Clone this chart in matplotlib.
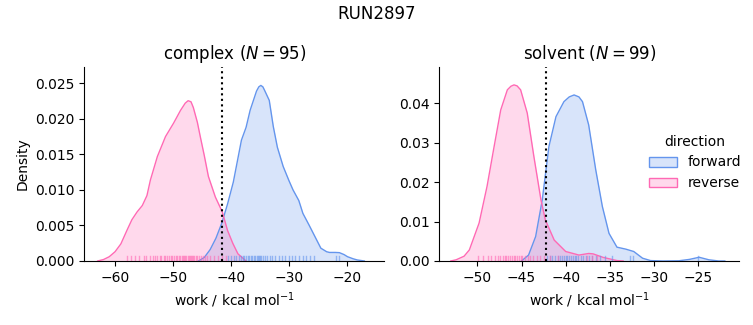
import matplotlib
matplotlib.use("Agg")
import matplotlib.pyplot as plt
from matplotlib.colors import to_rgba
from matplotlib.patches import Patch

# colours per direction
FWD_COLOR = "cornflowerblue"
REV_COLOR = "hotpink"

# kde curves (work in kcal/mol, density)
complex_rev_x = [-63.0, -62.0, -61.0, -60.0, -59.0, -57.9, -57.1, -56.2, -55.3, -54.5, -53.9,
                 -52.7, -51.3, -49.9, -48.7, -47.9, -47.4, -46.9, -46.5, -45.8, -45.3, -44.6,
                 -43.9, -42.7, -41.5, -40.6, -39.7, -38.8, -37.4]
complex_rev_d = [0.0, 0.0002, 0.0006, 0.0013, 0.0024, 0.0044, 0.0058, 0.0069, 0.0078, 0.0092, 0.0114,
                 0.0147, 0.0175, 0.0194, 0.0212, 0.0222, 0.02255, 0.0224, 0.0216, 0.0195, 0.0175, 0.0148,
                 0.0119, 0.0090, 0.0069, 0.0043, 0.0025, 0.0010, 0.0]

complex_fwd_x = [-45.6, -44.6, -43.6, -42.6, -41.6, -40.6, -39.6, -38.2, -37.4, -36.7, -35.6,
                 -35.2, -34.85, -34.5, -34.2, -33.4, -32.7, -32.0, -31.0, -30.0, -29.3, -28.3,
                 -27.6, -26.5, -26.0, -24.5, -23.5, -23.0, -22.0, -21.3, -20.5, -19.9, -18.9,
                 -18.2, -17.0]
complex_fwd_d = [0.0, 0.0005, 0.0016, 0.0032, 0.0053, 0.0080, 0.0111, 0.0170, 0.0188, 0.0212, 0.0239,
                 0.0245, 0.0247, 0.0245, 0.0240, 0.0226, 0.0189, 0.0160, 0.0133, 0.0113, 0.0100, 0.0085,
                 0.0067, 0.0050, 0.0042, 0.0018, 0.0013, 0.0012, 0.0012, 0.00117, 0.0009, 0.0006, 0.0003,
                 0.00014, 0.0]

solvent_rev_x = [-53.0, -52.4, -51.5, -50.9, -49.8, -48.9, -48.1, -47.35, -46.6, -46.2, -45.85,
                 -45.5, -45.1, -44.35, -43.6, -42.8, -42.3, -41.3, -40.0, -38.5, -37.4, -36.9,
                 -35.75, -34.2, -33.5]
solvent_rev_d = [0.0, 0.0003, 0.0012, 0.0028, 0.0096, 0.0189, 0.0290, 0.0383, 0.0434, 0.0443, 0.04465,
                 0.0444, 0.0434, 0.0375, 0.0265, 0.0155, 0.0104, 0.0053, 0.0024, 0.0015, 0.0019, 0.0018,
                 0.0009, 0.0001, 0.0]

solvent_fwd_x = [-45.0, -44.2, -43.4, -42.65, -41.9, -41.1, -40.2, -39.6, -39.05, -38.5, -38.1,
                 -37.4, -36.6, -35.85, -35.1, -34.2, -33.2, -32.3, -31.3, -30.4, -29.0, -27.2,
                 -26.0, -24.9, -23.8, -22.7, -22.0]
solvent_fwd_d = [0.0, 0.0015, 0.0062, 0.0155, 0.0290, 0.0366, 0.0404, 0.0416, 0.0421, 0.0416, 0.0404,
                 0.0345, 0.0231, 0.0138, 0.0070, 0.0035, 0.0030, 0.0024, 0.0007, 0.0001, 0.0, 0.00005,
                 0.0004, 0.00094, 0.0003, 0.0, 0.0]

# individual work values (rug)
complex_rev_rug = [-58.0, -57.2, -56.5, -55.8, -55.0, -54.6, -54.0, -53.5, -53.1, -52.7, -52.3, -52.0,
                   -51.6, -51.3, -51.0, -50.7, -50.4, -50.1, -49.8, -49.5, -49.3, -49.0, -48.8, -48.5,
                   -48.3, -48.1, -47.9, -47.7, -47.5, -47.3, -47.1, -46.9, -46.7, -46.5, -46.3, -46.0,
                   -45.8, -45.5, -45.2, -44.9, -44.5, -44.1, -43.6, -43.0, -42.3, -41.5, -40.9]
complex_fwd_rug = [-40.6, -40.0, -39.5, -39.1, -38.7, -38.3, -38.0, -37.7, -37.4, -37.1, -36.9, -36.6,
                   -36.4, -36.1, -35.9, -35.6, -35.4, -35.2, -35.0, -34.8, -34.5, -34.2, -33.8, -33.3,
                   -32.9, -32.4, -31.8, -31.2, -30.6, -30.0, -29.5, -28.9, -28.2, -27.6, -27.0, -26.4,
                   -25.7, -21.9, -21.4]
solvent_rev_rug = [-49.9, -49.3, -48.8, -48.4, -48.0, -47.7, -47.4, -47.1, -46.9, -46.7, -46.5, -46.3,
                   -46.1, -45.9, -45.7, -45.5, -45.3, -45.1, -44.9, -44.6, -44.3, -44.0, -43.7, -43.3,
                   -42.9, -42.5, -41.8, -40.9, -37.6, -37.0, -36.5]
solvent_fwd_rug = [-42.1, -41.8, -41.5, -41.2, -40.9, -40.6, -40.4, -40.2, -40.0, -39.8, -39.6, -39.4,
                   -39.2, -39.0, -38.8, -38.6, -38.3, -38.0, -37.7, -37.4, -37.0, -36.6, -36.1, -35.5,
                   -34.8, -32.7, -32.4, -25.0]

# free energy estimate lines
complex_dg = -41.5
solvent_dg = -42.2

fig = plt.figure(figsize=(7.53, 3.25), dpi=100)
ax1 = fig.add_axes([0.112, 0.197, 0.3984, 0.597])
ax2 = fig.add_axes([0.5834, 0.197, 0.3984, 0.597])


def draw_panel(ax, fx, fd, rx, rd, frug, rrug, dg, title, xlim, ylim):
    for x, d, c in [(fx, fd, FWD_COLOR), (rx, rd, REV_COLOR)]:
        ax.fill_between(x, d, color=c, alpha=0.25, linewidth=0)
        ax.plot(x, d, color=c, lw=1)
    for rug, c in [(frug, FWD_COLOR), (rrug, REV_COLOR)]:
        for v in rug:
            ax.axvline(v, ymin=0, ymax=0.025, color=c, lw=1, alpha=0.6)
    ax.axvline(dg, color="black", ls=":", lw=1.5)
    ax.set_xlim(xlim)
    ax.set_ylim(ylim)
    ax.set_title(title, fontsize=12)
    ax.set_xlabel("work / kcal mol$^{-1}$")
    ax.spines["top"].set_visible(False)
    ax.spines["right"].set_visible(False)


draw_panel(ax1, complex_fwd_x, complex_fwd_d, complex_rev_x, complex_rev_d,
           complex_fwd_rug, complex_rev_rug, complex_dg,
           "complex ($N = 95$)", (-65.3, -13.55), (0, 0.0273))
ax1.set_ylabel("Density")
ax1.set_yticks([0, 0.005, 0.01, 0.015, 0.02, 0.025])

draw_panel(ax2, solvent_fwd_x, solvent_fwd_d, solvent_rev_x, solvent_rev_d,
           solvent_fwd_rug, solvent_rev_rug, solvent_dg,
           "solvent ($N = 99$)", (-54.3, -20.36), (0, 0.0492))
ax2.set_xticks([-50, -45, -40, -35, -30, -25])

handles = [Patch(facecolor=to_rgba(FWD_COLOR, 0.25), edgecolor=FWD_COLOR),
           Patch(facecolor=to_rgba(REV_COLOR, 0.25), edgecolor=REV_COLOR)]
fig.legend(handles, ["forward", "reverse"], title="direction", loc="center left",
           bbox_to_anchor=(0.845, 0.5), frameon=False)

fig.suptitle("RUN2897", fontsize=12, y=0.985)

fig.savefig("out.png", dpi=100)
